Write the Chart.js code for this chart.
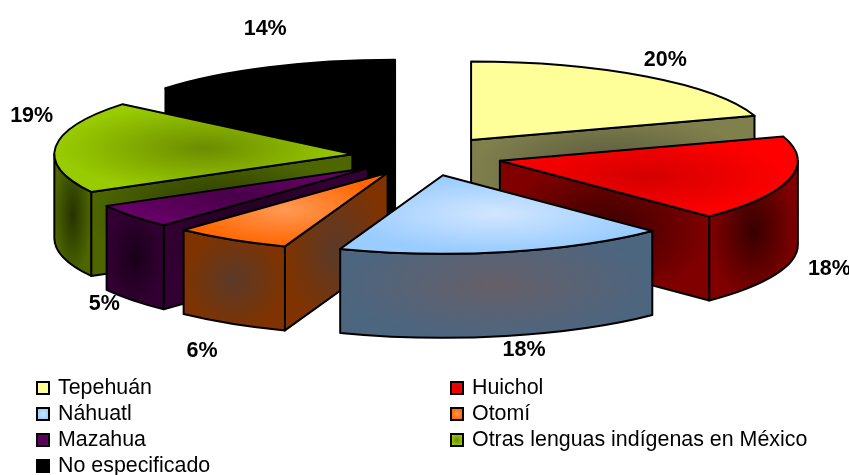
<!DOCTYPE html>
<html><head><meta charset="utf-8">
<style>html,body{margin:0;padding:0;background:#fff}canvas{display:block}</style>
<script src="https://cdn.jsdelivr.net/npm/chart.js@4/dist/chart.umd.min.js"></script>
</head><body><canvas id="c" width="849" height="475"></canvas>
<script>
const categories = ["Tepehuán","Huichol","Náhuatl","Otomí","Mazahua","Otras lenguas indígenas en México","No especificado"];
const values = [20,17.6,18,6.4,5,19,14];
const percentLabels = ["20%","18%","18%","6%","5%","19%","14%"];
const topEdge = ["#ffff99","#ff0000","#99ccff","#ff6600","#660066","#99cc00","#000000"];
const topCenter = ["#ffff99","#d40000","#d2e6ff","#ff9a55","#480048","#6c8c00","#000000"];
const wallEdge = ["#80804d","#800000","#4d6680","#803300","#330033","#4d6600","#000000"];
const wallCenter = ["#55553c","#380000","#665f68","#5a3a2a","#1a001a","#263300","#000000"];
const paintOrder = [6,0,5,1,4,3,2];
const labelNudgeX = [19,40,18,-29,-28,-24,-3];
const labelNudgeY = [-17,90,98,112,88,-31,-38];
const legendColumns = [0,1,0,1,0,1,0];
const legendRows = [0,0,1,1,2,2,3];

const SQUASH = 3.8, DEPTH = 84, EXPLODE = 75, RADIUS = 298;

function shade(ctx, box, inner, outer) {
  const w = Math.max(1,(box[2]-box[0])/2), h = Math.max(1,(box[3]-box[1])/2);
  ctx.save();
  ctx.translate(box[0]+w, box[1]+h);
  ctx.scale(w,h);
  const g = ctx.createRadialGradient(0,0,0,0,0,1);
  g.addColorStop(0,inner); g.addColorStop(1,outer);
  ctx.fillStyle = g;
  ctx.fill();
  ctx.restore();
}
const pie3d = {
  id:'pie3d',
  beforeDatasetDraw(chart){
    const ctx = chart.ctx, arcs = chart.getDatasetMeta(0).data;
    ctx.save();
    ctx.lineJoin = 'round';
    ctx.lineWidth = 2;
    ctx.strokeStyle = '#000';
    paintOrder.forEach(i=>{
      const arc = arcs[i], a0 = arc.startAngle, a1 = arc.endAngle, mid=(a0+a1)/2;
      const r = arc.outerRadius;
      const ox = arc.x + EXPLODE*Math.cos(mid), oy = arc.y + EXPLODE*Math.sin(mid)/SQUASH;
      const px = a => ox + r*Math.cos(a), py = a => oy + r*Math.sin(a)/SQUASH;
      // radial cut faces: only those turned towards the viewer
      [[a0,Math.cos(a0)<-1e-6],[a1,Math.cos(a1)>1e-6]].forEach(([a,visible])=>{
        if(!visible) return;
        const x=px(a), y=py(a);
        ctx.beginPath();
        ctx.moveTo(ox,oy); ctx.lineTo(x,y); ctx.lineTo(x,y+DEPTH); ctx.lineTo(ox,oy+DEPTH); ctx.closePath();
        ctx.fillStyle = wallEdge[i]; ctx.fill();
        shade(ctx,[Math.min(ox,x),Math.min(oy,y),Math.max(ox,x),Math.max(oy,y)+DEPTH],wallCenter[i],wallEdge[i]);
        ctx.stroke();
      });
      // outer curved wall: front half only (sin(angle) > 0 in canvas space)
      const s = Math.max(a0,0), e = Math.min(a1,Math.PI);
      if (e>s) {
        ctx.beginPath();
        ctx.ellipse(ox,oy,r,r/SQUASH,0,s,e);
        ctx.lineTo(px(e),py(e)+DEPTH);
        ctx.ellipse(ox,oy+DEPTH,r,r/SQUASH,0,e,s,true);
        ctx.closePath();
        ctx.fillStyle = wallEdge[i]; ctx.fill();
        const xs=[px(s),px(e)], ys=[py(s),py(e)];
        if(s<Math.PI/2&&e>Math.PI/2) ys.push(oy+r/SQUASH);
        shade(ctx,[Math.min(...xs),Math.min(...ys),Math.max(...xs),Math.max(...ys)+DEPTH],wallCenter[i],wallEdge[i]);
        ctx.stroke();
      }
      // top face: the library's own arc element, flattened
      ctx.save();
      ctx.translate(ox,oy); ctx.scale(1,1/SQUASH); ctx.translate(-arc.x,-arc.y);
      arc.draw(ctx);
      ctx.restore();
      ctx.beginPath();
      ctx.moveTo(ox,oy);
      ctx.ellipse(ox,oy,r,r/SQUASH,0,a0,a1);
      ctx.closePath();
      const samples=[[ox,oy],[px(a0),py(a0)],[px(a1),py(a1)],[px(mid),py(mid)]];
      const sx=samples.map(p=>p[0]), sy=samples.map(p=>p[1]);
      shade(ctx,[Math.min(...sx),Math.min(...sy),Math.max(...sx),Math.max(...sy)],topCenter[i],topEdge[i]);
      ctx.stroke();
    });
    ctx.restore();
    return false;
  },
  afterDraw(chart){
    const ctx = chart.ctx, arcs = chart.getDatasetMeta(0).data;
    ctx.save();
    ctx.fillStyle='#000';
    ctx.textAlign='center'; ctx.textBaseline='middle';
    ctx.font='bold 21.5px "Liberation Sans", Arial, sans-serif';
    arcs.forEach((arc,i)=>{
      const mid=(arc.startAngle+arc.endAngle)/2, d=EXPLODE+arc.outerRadius;
      ctx.fillText(percentLabels[i], arc.x+d*Math.cos(mid)+labelNudgeX[i], arc.y+d*Math.sin(mid)/SQUASH+labelNudgeY[i]);
    });
    // legend
    ctx.textAlign='left';
    ctx.font='21.4px "Liberation Sans", Arial, sans-serif';
    categories.forEach((name,i)=>{
      const bx = legendColumns[i]?451:37, y = 388+legendRows[i]*26;
      ctx.beginPath();
      ctx.rect(bx,y-6,12,12);
      shade(ctx,[bx,y-6,bx+12,y+6],topCenter[i],topEdge[i]);
      ctx.lineWidth=2; ctx.strokeStyle='#000';
      ctx.stroke();
      ctx.fillStyle='#000';
      ctx.fillText(name,bx+21,y);
    });
    ctx.restore();
  }
};
new Chart(document.getElementById('c'),{
  type:'pie',
  data:{labels:categories,datasets:[{data:values,backgroundColor:topEdge,borderWidth:0}]},
  options:{
    responsive:false,animation:false,radius:RADIUS,
    layout:{padding:{left:5,bottom:163}},
    plugins:{legend:{display:false},tooltip:{enabled:false}}
  },
  plugins:[pie3d]
});
</script></body></html>
